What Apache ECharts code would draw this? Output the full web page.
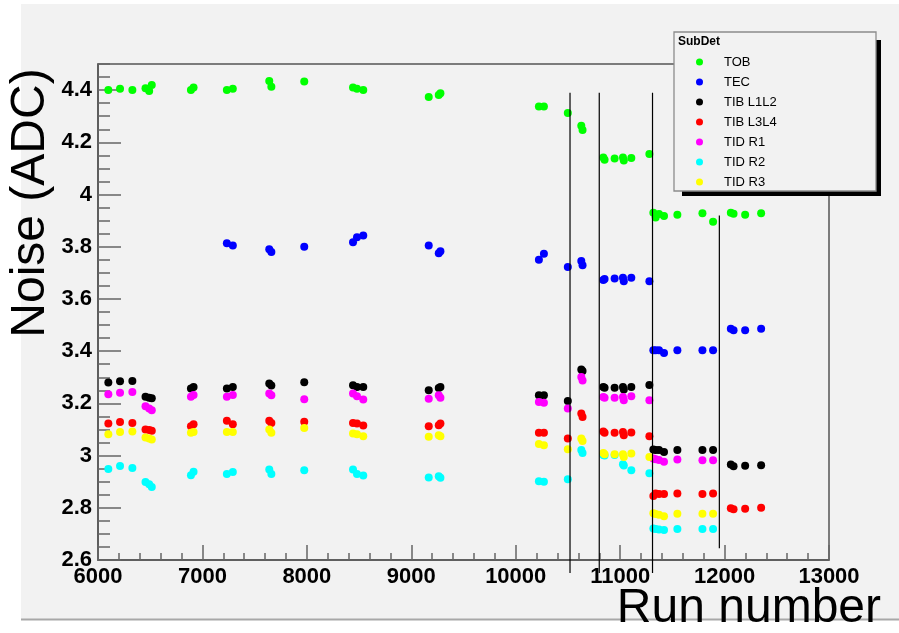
<!DOCTYPE html>
<html>
<head>
<meta charset="utf-8">
<script src="https://cdn.jsdelivr.net/npm/echarts@6/dist/echarts.min.js"></script>
<style>
  html, body { margin: 0; padding: 0; background: #ffffff; }
  #chart { width: 899px; height: 633px; }
</style>
</head>
<body>
<div id="chart"></div>
<script>
// Run numbers of the pedestal/noise runs
const runNumbers = [6099, 6211, 6329, 6455, 6490, 6515, 6890, 6915, 7234, 7291, 7640, 7660, 7975, 8442, 8480, 8540,
  9167, 9263, 9279, 10222, 10270, 10499, 10628, 10640, 10839, 10851, 10947, 11027, 11035, 11107, 11280,
  11318, 11340, 11372, 11420, 11548, 11788, 11890, 12060, 12086, 12197, 12350];

// Mean noise (ADC) per sub-detector, one value per run (null = not measured)
const tobNoise = [4.400, 4.405, 4.400, 4.407, 4.397, 4.420, 4.400, 4.410, 4.400, 4.405, 4.435, 4.413, 4.433, 4.410, 4.405, 4.400,
  4.374, 4.381, 4.388, 4.337, 4.337, 4.312, 4.263, 4.247, 4.142, 4.133, 4.138, 4.142, 4.130, 4.140, 4.155,
  3.930, 3.912, 3.925, 3.918, 3.923, 3.928, 3.896, 3.930, 3.926, 3.923, 3.928];
const tecNoise = [null, null, null, null, null, null, null, null, 3.813, 3.805, 3.790, 3.780, 3.800, 3.817, 3.836, 3.843,
  3.805, 3.775, 3.783, 3.750, 3.773, 3.722, 3.745, 3.729, 3.673, 3.676, 3.678, 3.681, 3.668, 3.681, 3.668,
  3.403, 3.403, 3.403, 3.393, 3.403, 3.403, 3.403, 3.486, 3.480, 3.480, 3.486];
const tibL1L2Noise = [3.280, 3.285, 3.286, 3.225, 3.222, 3.220, 3.257, 3.263, 3.257, 3.263, 3.276, 3.268, 3.281, 3.269, 3.263, 3.263,
  3.250, 3.259, 3.263, 3.231, 3.231, 3.209, 3.330, 3.324, 3.263, 3.260, 3.260, 3.263, 3.253, 3.263, 3.270,
  3.023, 3.021, 3.021, 3.014, 3.021, 3.021, 3.021, 2.966, 2.959, 2.961, 2.963];
const tibL3L4Noise = [3.123, 3.129, 3.125, 3.100, 3.098, 3.095, 3.112, 3.120, 3.133, 3.120, 3.133, 3.125, 3.130, 3.125, 3.123, 3.115,
  3.112, 3.116, 3.123, 3.087, 3.087, 3.065, 3.161, 3.148, 3.092, 3.087, 3.087, 3.090, 3.078, 3.088, 3.074,
  2.845, 2.855, 2.853, 2.853, 2.855, 2.853, 2.855, 2.798, 2.794, 2.796, 2.800];
const tidR1Noise = [3.235, 3.241, 3.244, 3.189, 3.180, 3.174, 3.225, 3.232, 3.225, 3.232, 3.238, 3.231, 3.216, 3.238, 3.227, 3.215,
  3.218, 3.231, 3.222, 3.205, 3.202, 3.180, 3.301, 3.288, 3.224, 3.222, 3.222, 3.224, 3.212, 3.227, 3.212,
  2.989, 2.986, 2.983, 2.976, 2.985, 2.982, 2.982, null, null, null, null];
const tidR2Noise = [2.949, 2.960, 2.952, 2.899, 2.890, 2.880, 2.925, 2.938, 2.929, 2.937, 2.947, 2.929, 2.944, 2.947, 2.929, 2.924,
  2.916, 2.921, 2.915, 2.902, 2.900, 2.909, 3.021, 3.010, 3.002, 3.000, 3.002, 2.967, 2.962, 2.944, 2.932,
  2.721, 2.719, 2.717, 2.715, 2.719, 2.719, 2.719, null, null, null, null];
const tidR3Noise = [3.082, 3.090, 3.092, 3.069, 3.065, 3.062, 3.087, 3.090, 3.090, 3.090, 3.100, 3.087, 3.106, 3.085, 3.082, 3.074,
  3.072, 3.078, 3.074, 3.044, 3.040, 3.024, 3.065, 3.056, 3.010, 3.005, 3.005, 3.005, 2.995, 3.008, 2.995,
  2.779, 2.776, 2.773, 2.768, 2.777, 2.777, 2.777, null, null, null, null];

const subDetNames = ['TOB', 'TEC', 'TIB L1L2', 'TIB L3L4', 'TID R1', 'TID R2', 'TID R3'];
const subDetValues = [tobNoise, tecNoise, tibL1L2Noise, tibL3L4Noise, tidR1Noise, tidR2Noise, tidR3Noise];
const subDetColors = ['#00ff00', '#0000ff', '#000000', '#ff0000', '#ff00ff', '#00ffff', '#ffff00'];

// Vertical markers separating run periods
const markerRuns = [10520, 10800, 11310, 11950];
const markerTop = [4.39, 4.39, 4.39, 3.92];
const markerBottom = [2.55, 2.55, 2.55, 2.645];

// Axis ranges and tick steps
const yMin = 2.6, yMax = 4.5, yStep = 0.2, yMinorStep = 0.05;
const xMin = 6000, xMax = 13000, xStep = 1000;

const FONT = '"Liberation Sans", Arial, Helvetica, sans-serif';
const axisGray = '#555555';
const tickGray = '#666666';

const chart = echarts.init(document.getElementById('chart'), null, { renderer: 'canvas' });

const scatterSeries = subDetNames.map((name, k) => ({
  name: name,
  type: 'scatter',
  xAxisIndex: 0,
  yAxisIndex: 0,
  symbol: 'circle',
  symbolSize: 8,
  itemStyle: { color: subDetColors[k], opacity: 1 },
  z: 3,
  data: runNumbers.map((r, i) => subDetValues[k][i] == null ? null : [r, subDetValues[k][i]]).filter(d => d)
}));

const markerSeries = markerRuns.map((r, i) => ({
  name: 'period' + i,
  type: 'line',
  xAxisIndex: 0,
  yAxisIndex: 0,
  symbol: 'none',
  clip: false,
  silent: true,
  z: 4,
  lineStyle: { color: '#000000', width: 1.2 },
  data: [[r, markerTop[i]], [r, markerBottom[i]]]
}));

chart.setOption({
  backgroundColor: '#f2f2f2',
  animation: false,
  title: {
    text: 'SubDet',
    left: 678,
    top: 36,
    padding: 0,
    z: 12,
    textStyle: { fontFamily: FONT, fontSize: 12, fontWeight: 'bold', color: '#000000' }
  },
  legend: {
    data: subDetNames,
    orient: 'vertical',
    left: 696,
    top: 55,
    padding: 0,
    icon: 'circle',
    itemWidth: 39,
    itemHeight: 7,
    itemGap: 6,
    z: 12,
    selectedMode: false,
    textStyle: { fontFamily: FONT, fontSize: 13, color: '#000000', lineHeight: 14 }
  },
  graphic: [
    // page margins around the canvas
    { type: 'rect', z: 1, silent: true, shape: { x: 0, y: 0, width: 21, height: 633 }, style: { fill: '#ffffff' } },
    { type: 'rect', z: 1, silent: true, shape: { x: 0, y: 0, width: 899, height: 4 }, style: { fill: '#ffffff' } },
    { type: 'rect', z: 1, silent: true, shape: { x: 0, y: 620, width: 899, height: 13 }, style: { fill: '#ffffff' } },
    { type: 'rect', z: 1, silent: true, shape: { x: 21, y: 618.5, width: 878, height: 2 }, style: { fill: '#a8a8a8' } },
    // legend frame with drop shadow
    { type: 'rect', z: 10, silent: true, shape: { x: 682, y: 40, width: 199, height: 156 }, style: { fill: '#000000' } },
    { type: 'rect', z: 11, silent: true, shape: { x: 674, y: 32, width: 202, height: 159 }, style: { fill: '#f2f2f2', stroke: '#8c8c8c', lineWidth: 1.3 } },
    // axis titles
    { type: 'text', z: 5, silent: true, x: 31, y: 203, rotation: Math.PI / 2,
      style: { text: 'Noise (ADC)', font: '48px ' + FONT, fill: '#000000', align: 'center', verticalAlign: 'middle' } },
    { type: 'text', z: 5, silent: true, x: 881, y: 609,
      style: { text: 'Run number', font: '48px ' + FONT, fill: '#000000', align: 'right', verticalAlign: 'middle' } }
  ],
  grid: {
    left: 98, top: 64, right: 70, bottom: 73,
    show: true, backgroundColor: 'transparent', borderColor: axisGray, borderWidth: 1.5
  },
  xAxis: {
    type: 'value', min: xMin, max: xMax, interval: xStep,
    axisLine: { show: true, onZero: false, lineStyle: { color: axisGray, width: 1.5 } },
    axisTick: { show: true, inside: true, length: 15, lineStyle: { color: tickGray, width: 1.5 } },
    minorTick: { show: true, splitNumber: 5, length: 7, lineStyle: { color: tickGray, width: 1.5 } },
    axisLabel: { margin: 6, color: '#000000', fontFamily: FONT, fontSize: 22, fontWeight: 'bold',
      formatter: v => String(Math.round(v)) },
    splitLine: { show: false }, minorSplitLine: { show: false }
  },
  yAxis: [
    {
      type: 'value', min: yMin, max: yMax, interval: yStep, position: 'left',
      axisLine: { show: true, onZero: false, lineStyle: { color: axisGray, width: 1.5 } },
      axisTick: { show: true, inside: true, length: 23, lineStyle: { color: tickGray, width: 1.5 } },
      axisLabel: { margin: 6, color: '#000000', fontFamily: FONT, fontSize: 22, fontWeight: 'bold', showMaxLabel: false },
      splitLine: { show: false }
    },
    {
      type: 'value', min: yMin, max: yMax, interval: yMinorStep, position: 'left', offset: 0,
      axisLine: { show: false },
      axisTick: { show: true, inside: true, length: 12, lineStyle: { color: tickGray, width: 1.5 } },
      axisLabel: { show: false },
      splitLine: { show: false }
    }
  ],
  series: scatterSeries.concat(markerSeries)
});
</script>
</body>
</html>
